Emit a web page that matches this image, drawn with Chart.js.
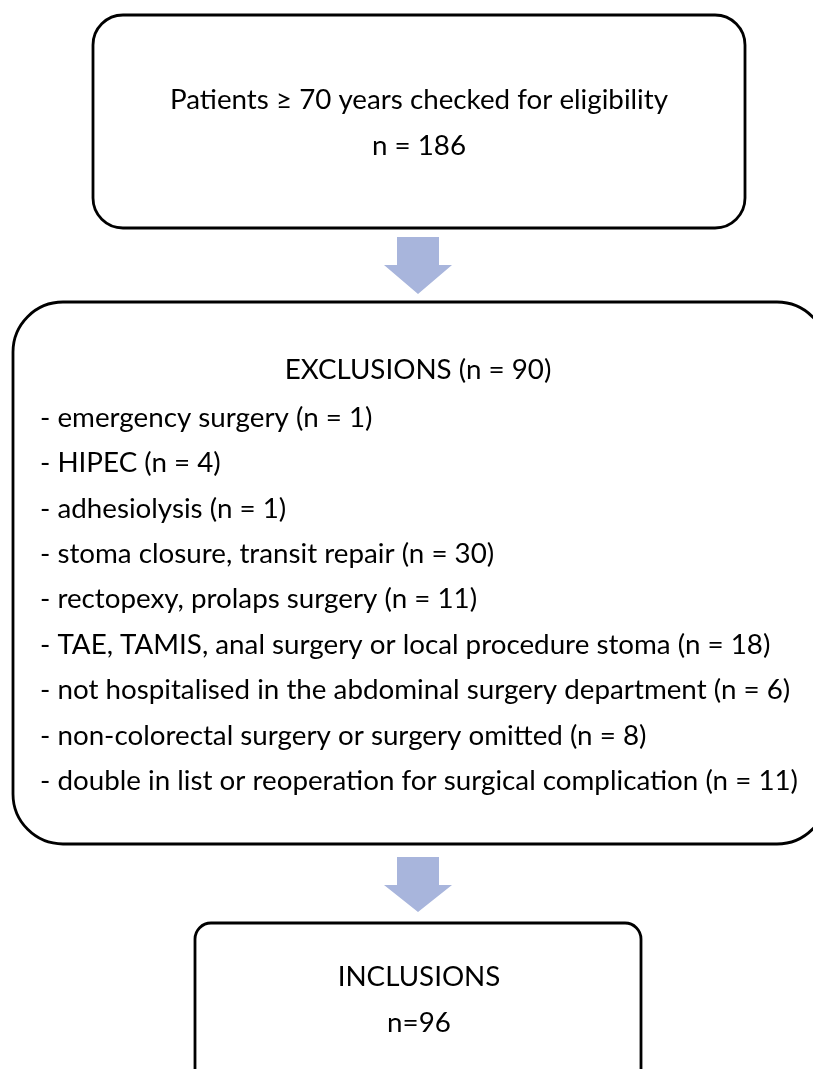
<!DOCTYPE html>
<html>
<head>
<meta charset="utf-8">
<title>Flow chart</title>
<script src="https://cdn.jsdelivr.net/npm/chart.js@4"></script>
<style>
    html, body { margin: 0; padding: 0; background: #fff; }
    #wrap { width: 813px; height: 1069px; }
</style>
</head>
<body>
<div id="wrap"><canvas id="flow" width="813" height="1069"></canvas></div>
<script>
// chart content
let screenedLabel = 'Patients \u2265 70 years checked for eligibility';
let screenedCount = 186;
let exclusionReasons = [
    'emergency surgery',
    'HIPEC',
    'adhesiolysis',
    'stoma closure, transit repair',
    'rectopexy, prolaps surgery',
    'TAE, TAMIS, anal surgery or local procedure stoma',
    'not hospitalised in the abdominal surgery department',
    'non-colorectal surgery or surgery omitted',
    'double in list or reoperation for surgical complication'
];
let exclusionCounts = [1, 4, 1, 30, 11, 18, 6, 8, 11];
let exclusionTotal = 90;
let inclusionCount = 96;

var Flow = {};

(function () {

    Flow = {

        // layout in chart units (x 0..813, y 0..1069 top-down)
        boxes: {
            screened: {x0: 93, x1: 745, y0: 15, y1: 228, r: 30},
            excluded: {x0: 13, x1: 827, y0: 302, y1: 844, r: 50},
            included: {x0: 195, x1: 641, y0: 923, y1: 1090, r: 16}
        },
        arrows: [
            {cx: 418, top: 237, neck: 265, tip: 294},
            {cx: 418, top: 857, neck: 885, tip: 912}
        ],
        font: '27px Lato, "Open Sans", sans-serif',
        squeeze: 1,

        setup: function () {
            this.drawChart();
        },

        px: function (chart, x) {
            return chart.scales.x.getPixelForValue(x);
        },
        py: function (chart, y) {
            return chart.scales.y.getPixelForValue(y);
        },

        roundBox: function (ctx, chart, b) {
            var x0 = this.px(chart, b.x0), x1 = this.px(chart, b.x1),
                y0 = this.py(chart, b.y0), y1 = this.py(chart, b.y1);
            ctx.beginPath();
            ctx.roundRect(x0, y0, x1 - x0, y1 - y0, b.r);
            ctx.lineWidth = 2.8;
            ctx.strokeStyle = '#000';
            ctx.stroke();
        },

        arrow: function (ctx, chart, a) {
            var self = this;
            var pts = [
                [a.cx - 21, a.top], [a.cx + 21, a.top], [a.cx + 21, a.neck],
                [a.cx + 34, a.neck], [a.cx, a.tip], [a.cx - 34, a.neck], [a.cx - 21, a.neck]
            ];
            ctx.beginPath();
            pts.forEach(function (p, i) {
                var x = self.px(chart, p[0]), y = self.py(chart, p[1]);
                if (i === 0) {
                    ctx.moveTo(x, y);
                } else {
                    ctx.lineTo(x, y);
                }
            });
            ctx.closePath();
            ctx.fillStyle = '#a8b5dc';
            ctx.fill();
        },

        text: function (ctx, chart, str, x, y, align) {
            ctx.save();
            ctx.font = this.font;
            ctx.fillStyle = '#000';
            ctx.textBaseline = 'middle';
            ctx.textAlign = align;
            ctx.translate(this.px(chart, x), this.py(chart, y));
            ctx.scale(this.squeeze, 1);
            ctx.fillText(str, 0, 0);
            ctx.restore();
        },

        drawChart: function () {
            var self = this;

            var exclusionLines = exclusionReasons.map(function (r, i) {
                return '- ' + r + ' (n = ' + exclusionCounts[i] + ')';
            });

            var flowPlugin = {
                id: 'flowPlugin',
                afterDraw: function (chart) {
                    var ctx = chart.ctx;

                    // Calibri is narrower than Lato, fit the longest line to its width
                    ctx.font = self.font;
                    self.squeeze = 758 / ctx.measureText(exclusionLines[exclusionLines.length - 1]).width;

                    self.roundBox(ctx, chart, self.boxes.screened);
                    self.roundBox(ctx, chart, self.boxes.excluded);
                    self.roundBox(ctx, chart, self.boxes.included);
                    self.arrows.forEach(function (a) {
                        self.arrow(ctx, chart, a);
                    });

                    self.text(ctx, chart, screenedLabel, 419, 100, 'center');
                    self.text(ctx, chart, 'n = ' + screenedCount, 419, 146, 'center');

                    self.text(ctx, chart, 'EXCLUSIONS (n = ' + exclusionTotal + ')', 418, 370, 'center');
                    exclusionLines.forEach(function (line, i) {
                        self.text(ctx, chart, line, 40, 418 + i * 45.4, 'left');
                    });

                    self.text(ctx, chart, 'INCLUSIONS', 419, 977, 'center');
                    self.text(ctx, chart, 'n=' + inclusionCount, 419, 1023, 'center');
                }
            };

            new Chart(document.getElementById('flow'), {
                type: 'scatter',
                data: {datasets: [{data: [], pointRadius: 0}]},
                options: {
                    responsive: false,
                    animation: false,
                    events: [],
                    layout: {padding: 0},
                    plugins: {legend: {display: false}, tooltip: {enabled: false}},
                    scales: {
                        x: {type: 'linear', min: 0, max: 813, display: false},
                        y: {type: 'linear', min: 0, max: 1069, reverse: true, display: false}
                    }
                },
                plugins: [flowPlugin]
            });
        }
    };
})();

Flow.setup();
</script>
</body>
</html>
